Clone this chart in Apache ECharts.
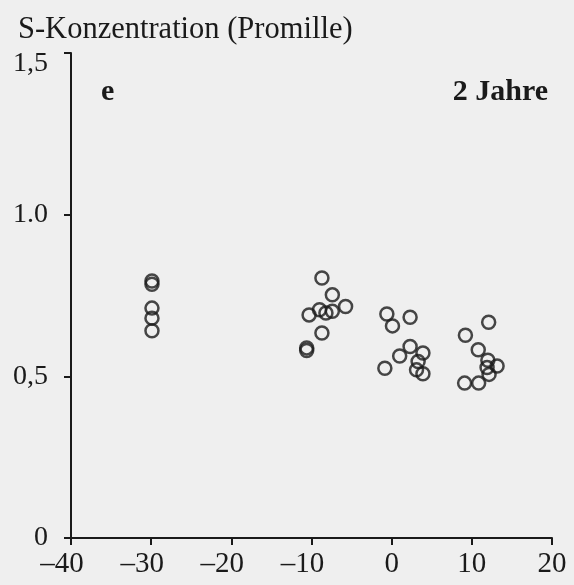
<!DOCTYPE html>
<html>
<head>
<meta charset="utf-8">
<script src="https://cdn.jsdelivr.net/npm/echarts@6/dist/echarts.min.js"></script>
<style>
  html, body { margin: 0; padding: 0; background: #efefef; }
  #chart { width: 574px; height: 585px; }
</style>
</head>
<body>
<div id="chart"></div>
<script>
// Sulfur concentration (per mille) against position, 2-year sample
const yAxisTitle = 'S-Konzentration (Promille)';
const panelLetter = 'e';
const panelTitle = '2 Jahre';

const xTickValues = [-40, -30, -20, -10, 0, 10, 20];
const xTickLabels = ['\u201340', '\u201330', '\u201320', '\u201310', '0', '10', '20'];
const yTickValues = [0, 0.5, 1.0, 1.5];
const yTickLabels = ['0', '0,5', '1.0', '1,5'];

// measurements grouped by position cluster: [x, concentration]
const groupMinus30 = [
  [-29.9, 0.795], [-29.9, 0.785], [-29.9, 0.711], [-29.9, 0.680], [-29.9, 0.641]
];
const groupMinus10 = [
  [-8.7, 0.804], [-7.4, 0.752], [-10.3, 0.690], [-9.0, 0.706], [-8.2, 0.696],
  [-7.4, 0.701], [-5.75, 0.716], [-8.7, 0.634], [-10.6, 0.588], [-10.6, 0.580]
];
const groupZero = [
  [-0.6, 0.693], [0.1, 0.656], [2.3, 0.683], [2.3, 0.592], [1.0, 0.563],
  [3.9, 0.572], [3.3, 0.546], [3.1, 0.520], [3.9, 0.508], [-0.85, 0.525]
];
const groupPlus10 = [
  [12.1, 0.667], [9.2, 0.627], [10.8, 0.582], [12.0, 0.550], [13.15, 0.532],
  [11.9, 0.527], [12.15, 0.506], [9.1, 0.479], [10.85, 0.479]
];

const ink = '#1a1a1a';
const serif = '"Liberation Serif", "DejaVu Serif", serif';

function findLabel(values, labels, v) {
  const i = values.findIndex(t => Math.abs(t - v) < 1e-9);
  return i >= 0 ? labels[i] : '';
}

const chart = echarts.init(document.getElementById('chart'), null, { renderer: 'canvas' });

const markerStyle = {
  color: 'rgba(0,0,0,0)',
  borderColor: ink,
  borderWidth: 2.5
};

chart.setOption({
  backgroundColor: '#efefef',
  animation: false,
  title: [
    {
      text: yAxisTitle, left: 13, top: 9,
      textStyle: { fontFamily: serif, fontSize: 30.5, fontWeight: 'normal', color: ink }
    },
    {
      text: panelLetter, left: 96, top: 72,
      textStyle: { fontFamily: serif, fontSize: 30, fontWeight: 'bold', color: ink }
    },
    {
      text: panelTitle, right: 21, top: 72,
      textStyle: { fontFamily: serif, fontSize: 30, fontWeight: 'bold', color: ink }
    }
  ],
  grid: { left: 71, right: 22, top: 53, bottom: 47, containLabel: false },
  xAxis: {
    type: 'value', min: -40, max: 20, interval: 10,
    splitLine: { show: false },
    axisLine: { show: true, onZero: false, lineStyle: { color: ink, width: 2 } },
    axisTick: { show: true, inside: false, length: 7, lineStyle: { color: ink, width: 2 } },
    axisLabel: {
      margin: 12, color: ink, fontFamily: serif, fontSize: 29,
      formatter: v => {
        const s = findLabel(xTickValues, xTickLabels, v);
        // negative labels keep their digits near the tick, dash hanging left
        return v < 0 ? '{neg|' + s + '}' : s;
      },
      rich: { neg: { fontFamily: serif, fontSize: 29, color: ink, padding: [0, 18, 0, 0] } }
    }
  },
  yAxis: {
    type: 'value', min: 0, max: 1.5, interval: 0.5,
    splitLine: { show: false },
    axisLine: { show: true, onZero: false, lineStyle: { color: ink, width: 2 } },
    axisTick: { show: true, inside: false, length: 7, lineStyle: { color: ink, width: 2 } },
    axisLabel: {
      margin: 23, color: ink, fontFamily: serif, fontSize: 28,
      formatter: v => {
        const s = findLabel(yTickValues, yTickLabels, v);
        // the top label sits a little below its tick
        return v === 1.5 ? '{top|' + s + '}' : s;
      },
      rich: { top: { fontFamily: serif, fontSize: 28, color: ink, padding: [22, 0, 0, 0] } }
    }
  },
  series: [groupMinus30, groupMinus10, groupZero, groupPlus10].map(data => ({
    type: 'scatter',
    data: data,
    symbol: 'circle',
    symbolSize: 13,
    itemStyle: markerStyle,
    emphasis: { disabled: true }
  }))
});
</script>
</body>
</html>
